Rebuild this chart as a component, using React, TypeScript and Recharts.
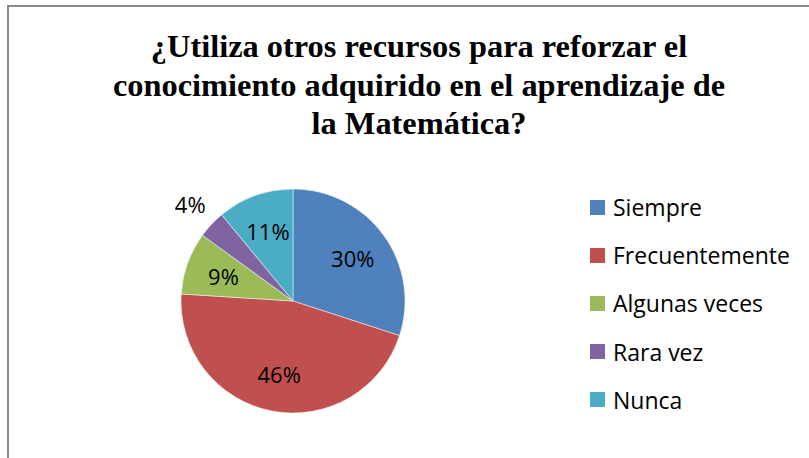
import { PieChart, Pie, Cell, Legend } from "recharts";

const categories = ["Siempre", "Frecuentemente", "Algunas veces", "Rara vez", "Nunca"];
const percents = [30, 46, 9, 4, 11];
const colors = ["#4F81BD", "#C0504D", "#9BBB59", "#8064A2", "#4BACC6"];
const titleLines = [
  "¿Utiliza otros recursos para reforzar el",
  "conocimiento adquirido en el aprendizaje de",
  "la Matemática?",
];

const data = categories.map((name, i) => ({ name, value: percents[i] }));

const RAD = Math.PI / 180;

// small slices get their label outside the pie, the rest sit inside
const renderLabel = (props: any) => {
  const { cx, cy, midAngle, outerRadius, value } = props;
  const small = value < 5;
  const r = small ? outerRadius + 29 : outerRadius * 0.66;
  const x = cx + r * Math.cos(-midAngle * RAD);
  const y = cy + r * Math.sin(-midAngle * RAD);
  return (
    <text
      x={x}
      y={y}
      textAnchor="middle"
      dominantBaseline="central"
      fill="#000"
      fontSize={22}
      fontFamily="'Open Sans', sans-serif"
    >
      {`${value}%`}
    </text>
  );
};

const LegendBox = () => (
  <div style={{ fontFamily: "'Open Sans', sans-serif", fontSize: 23, color: "#000" }}>
    {data.map((d, i) => (
      <div key={d.name} style={{ display: "flex", alignItems: "center", height: 48.2 }}>
        <div style={{ width: 15, height: 15, background: colors[i], marginRight: 8 }} />
        <span>{d.name}</span>
      </div>
    ))}
  </div>
);

export default function App() {
  return (
    <div style={{ position: "fixed", left: 0, top: 0, width: 809, height: 458, background: "#fff", overflow: "hidden" }}>
      <div
        style={{
          position: "absolute",
          left: 7,
          top: 5,
          width: 900,
          height: 600,
          border: "2px solid #8c8c8c",
        }}
      />
      <div
        style={{
          position: "absolute",
          left: 0,
          top: 27,
          width: 838,
          textAlign: "center",
          fontFamily: "'Liberation Serif', 'Times New Roman', serif",
          fontWeight: 700,
          fontSize: 32.4,
          lineHeight: "38.5px",
          color: "#000",
        }}
      >
        {titleLines.map((t) => (
          <div key={t}>{t}</div>
        ))}
      </div>
      <div style={{ position: "absolute", left: 0, top: 0 }}>
        <PieChart width={809} height={458} margin={{ top: 0, right: 0, bottom: 0, left: 0 }}>
          <Pie
            data={data}
            dataKey="value"
            nameKey="name"
            cx={293}
            cy={301}
            outerRadius={112}
            startAngle={90}
            endAngle={-270}
            stroke="#fff"
            strokeWidth={0.5}
            label={renderLabel}
            labelLine={false}
            isAnimationActive={false}
          >
            {data.map((d, i) => (
              <Cell key={d.name} fill={colors[i]} />
            ))}
          </Pie>
          <Legend
            layout="vertical"
            content={<LegendBox />}
            wrapperStyle={{ position: "absolute", left: 590, top: 183, width: 219 }}
          />
        </PieChart>
      </div>
    </div>
  );
}
